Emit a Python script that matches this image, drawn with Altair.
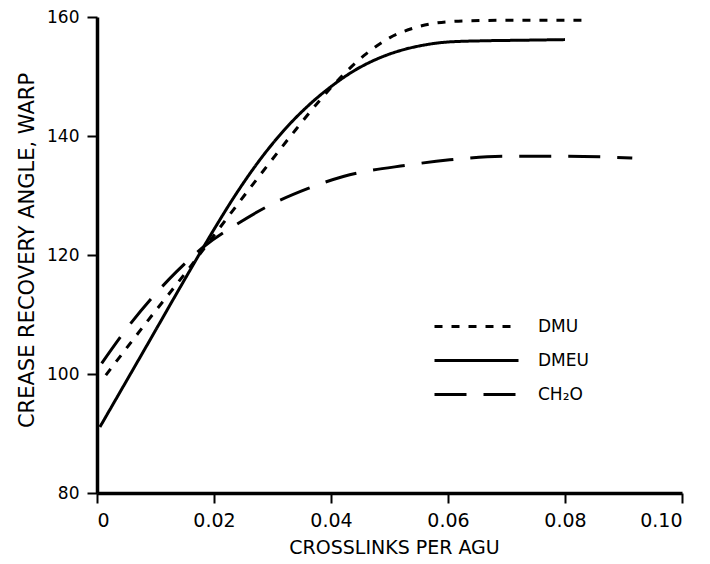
import altair as alt
import pandas as pd

# ---- data ----
dmu_x = [0.0015, 0.008, 0.016, 0.022, 0.028, 0.034, 0.038, 0.042, 0.046,
         0.050, 0.054, 0.058, 0.063, 0.070, 0.084]
dmu_y = [99.8, 108.1, 118.1, 125.9, 133.6, 141.1, 145.9, 150.2, 153.8,
         156.5, 158.1, 159.0, 159.35, 159.45, 159.45]

dmeu_x = [0.0005, 0.008, 0.016, 0.020, 0.024, 0.028, 0.032, 0.036, 0.040,
          0.044, 0.048, 0.052, 0.056, 0.060, 0.066, 0.073, 0.080]
dmeu_y = [91.1, 103.9, 117.6, 124.3, 130.6, 136.2, 141.0, 145.0, 148.3,
          151.0, 153.0, 154.4, 155.3, 155.8, 156.0, 156.1, 156.2]

ch2o_x = [0.0008, 0.0056, 0.0136, 0.0185, 0.0241, 0.029, 0.0361, 0.0421,
          0.053, 0.0603, 0.07, 0.08, 0.0915]
ch2o_y = [101.8, 108.3, 117.2, 121.6, 125.3, 128.1, 131.2, 133.2,
          135.1, 136.0, 136.6, 136.6, 136.3]

series = ["DMU", "DMEU", "CH\u2082O"]
x_ticks = [0, 0.02, 0.04, 0.06, 0.08, 0.10]
y_ticks = [80, 100, 120, 140, 160]

rows = []
for name, xs, ys in [(series[0], dmu_x, dmu_y), (series[1], dmeu_x, dmeu_y), (series[2], ch2o_x, ch2o_y)]:
    for i, (a, b) in enumerate(zip(xs, ys)):
        rows.append({"x": a, "y": b, "series": name, "order": i})
df = pd.DataFrame(rows)

chart = alt.Chart(df).mark_line(
    color="black", strokeWidth=3, interpolate="monotone", strokeCap="butt"
).encode(
    x=alt.X("x:Q",
            scale=alt.Scale(domain=[0, 0.10], nice=False, zero=False),
            axis=alt.Axis(values=x_ticks, title="CROSSLINKS PER AGU",
                          labelExpr="datum.value == 0 ? '0' : format(datum.value, '.2f')",
                          labelFontSize=19, labelPadding=8,
                          titleX=297, titleY=60, titleBaseline="alphabetic",
                          titleAlign="center", titleFontSize=19)),
    y=alt.Y("y:Q",
            scale=alt.Scale(domain=[80, 160], nice=False, zero=False),
            axis=alt.Axis(values=y_ticks, title="CREASE RECOVERY ANGLE, WARP",
                          labelFontSize=17, labelPadding=8,
                          titleX=-70, titleY=233, titleAngle=-90,
                          titleBaseline="middle", titleAlign="center",
                          titleFontSize=21)),
    strokeDash=alt.StrokeDash(
        "series:N",
        scale=alt.Scale(domain=series, range=[[8, 9], [1, 0], [32, 17]]),
        legend=alt.Legend(title=None, orient="none", legendX=364, legendY=294,
                          symbolType="M-3,0H3", symbolSize=784,
                          symbolStrokeWidth=3, symbolStrokeColor="black",
                          symbolFillColor="transparent",
                          labelFontSize=17, labelFont="DejaVu Sans",
                          labelColor="black", labelOffset=46, rowPadding=10)),
    order="order:Q",
    detail="series:N",
).properties(
    width=585, height=476,
    padding={"left": 89, "top": 9, "right": 20, "bottom": 63},
    autosize=alt.AutoSizeParams(type="none"),
).configure_view(stroke=None).configure_axis(
    grid=False, domainColor="black", domainWidth=3.5, tickColor="black",
    tickWidth=2, tickSize=10, labelColor="black", titleColor="black",
    labelFont="DejaVu Sans", titleFont="DejaVu Sans", titleFontWeight="normal",
)

chart.save("out.html", embed_options={"renderer": "svg", "actions": False})
